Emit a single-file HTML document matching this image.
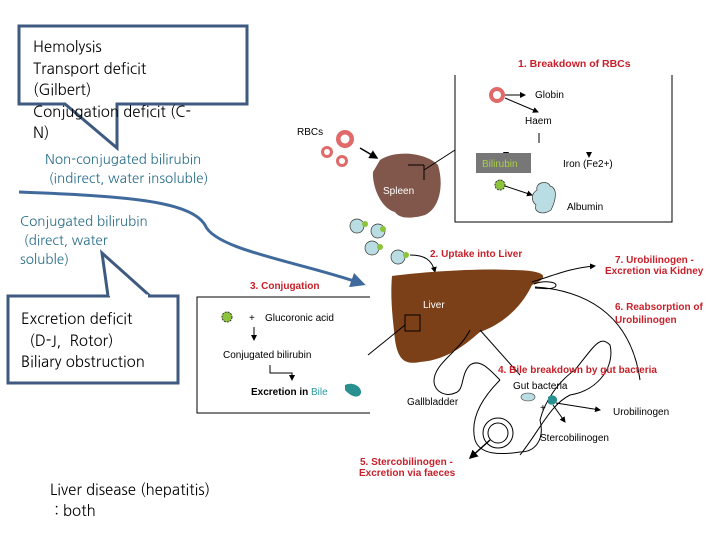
<!DOCTYPE html>
<html><head><meta charset="utf-8"><style>
body{margin:0;background:#fff;width:720px;height:540px;overflow:hidden;position:relative;font-family:"Liberation Sans","Noto Sans CJK KR",sans-serif}
.t{position:absolute;white-space:nowrap}
.k{font-family:"NanumGothic","Liberation Sans",sans-serif}
</style></head><body>
<svg width="720" height="540" style="position:absolute;left:0;top:0" font-family="Liberation Sans, sans-serif">
<defs>
<marker id="a" markerWidth="6" markerHeight="6" refX="5" refY="3" orient="auto"><path d="M0,0L6,3L0,6z" fill="#000"/></marker>
<marker id="b" markerWidth="5" markerHeight="5" refX="3" refY="2.5" orient="auto"><path d="M0,0L5,2.5L0,5z" fill="#416a9c"/></marker>
</defs>
<path d="M19,26H247V104H117V148L65,104H19Z" fill="#fff" stroke="#3f5a80" stroke-width="3"/>
<path d="M8,296H178V383H8Z" fill="#fff" stroke="#3f5a80" stroke-width="3"/>
<path d="M108,296L102,253L150,296" fill="#fff" stroke="#3f5a80" stroke-width="3"/>
<line x1="110" y1="296" x2="148" y2="296" stroke="#fff" stroke-width="3"/>
<path d="M19,192C120,196 190,200 205,225C215,250 300,262 360,283" fill="none" stroke="#416a9c" stroke-width="3" marker-end="url(#b)"/>
<path d="M455,75V222H672V75" fill="none" stroke="#000" stroke-width="1"/>
<text x="518" y="67" font-size="10.5" font-weight="bold" fill="#c8202a">1. Breakdown of RBCs</text>
<circle cx="497" cy="95" r="8" fill="#e06a6a"/><circle cx="497" cy="95" r="4" fill="#fff"/>
<line x1="505" y1="95" x2="525" y2="95" stroke="#000" marker-end="url(#a)"/>
<line x1="505" y1="98" x2="538" y2="112" stroke="#000" marker-end="url(#a)"/>
<text x="535" y="98" font-size="10">Globin</text>
<text x="525" y="124" font-size="10">Haem</text>
<line x1="539" y1="133" x2="539" y2="143" stroke="#000"/>
<line x1="506" y1="152" x2="506" y2="157" stroke="#000" marker-end="url(#a)"/>
<line x1="589" y1="152" x2="589" y2="157" stroke="#000" marker-end="url(#a)"/>
<rect x="476" y="153" width="55" height="20" fill="#777"/>
<text x="482" y="167" font-size="10" fill="#a8d040">Bilirubin</text>
<text x="563" y="167" font-size="10">Iron (Fe2+)</text>
<circle cx="500" cy="185" r="5" fill="#8bc43a" stroke="#333" stroke-dasharray="2 1"/>
<line x1="505" y1="186" x2="532" y2="195" stroke="#000" marker-end="url(#a)"/>
<path d="M537,190C535,182 548,180 550,186C558,188 556,200 551,210C543,216 533,212 536,205C530,200 532,193 537,190Z" fill="#b9dde3" stroke="#333" stroke-width=".7"/>
<text x="567" y="210" font-size="10">Albumin</text>
<text x="297" y="135" font-size="10">RBCs</text>
<circle cx="345" cy="139" r="9" fill="#e06a6a"/><circle cx="345" cy="139" r="4.5" fill="#fff"/>
<circle cx="327" cy="152" r="6" fill="#e06a6a"/><circle cx="327" cy="152" r="3" fill="#fff"/>
<circle cx="342" cy="161" r="6" fill="#e06a6a"/><circle cx="342" cy="161" r="3" fill="#fff"/>
<line x1="360" y1="148" x2="377" y2="158" stroke="#000" stroke-width="1.5" marker-end="url(#a)"/>
<path d="M380,160C395,150 425,152 438,165C444,185 440,208 425,215C415,218 400,220 395,212C380,208 372,185 373,172Z" fill="#80574a"/>
<text x="383" y="194" font-size="10" fill="#fff">Spleen</text>
<line x1="408" y1="165" x2="424" y2="165" stroke="#000"/><line x1="424" y1="165" x2="424" y2="180" stroke="#000"/>
<line x1="424" y1="170" x2="455" y2="150" stroke="#000"/>
<g fill="#b9dde3" stroke="#333" stroke-width=".7">
<circle cx="357" cy="226" r="7"/><circle cx="378" cy="231" r="7"/><circle cx="372" cy="248" r="7"/><circle cx="398" cy="257" r="7"/></g>
<g fill="#8bc43a"><circle cx="365" cy="224" r="3"/><circle cx="383" cy="229" r="3"/><circle cx="380" cy="247" r="3"/><circle cx="406" cy="255" r="3"/></g>
<path d="M410,255C425,255 432,260 435,272" fill="none" stroke="#000" marker-end="url(#a)"/>
<text x="430" y="257" font-size="10" font-weight="bold" fill="#c8202a">2. Uptake into Liver</text>
<text x="615" y="263" font-size="10" font-weight="bold" fill="#c8202a">7. Urobilinogen -</text>
<text x="605" y="274" font-size="10" font-weight="bold" fill="#c8202a">Excretion via Kidney</text>
<path d="M392,276C420,272 480,268 510,270C540,270 555,275 532,285C520,310 500,325 480,332C470,340 450,360 420,362C405,365 398,360 395,340C393,320 390,300 392,276Z" fill="#7b4017"/>
<text x="423" y="308" font-size="10" fill="#fff">Liver</text>
<rect x="405" y="315" width="15" height="16" fill="none" stroke="#000"/>
<line x1="405" y1="325" x2="368" y2="355" stroke="#000"/>
<path d="M532,282C555,275 570,268 595,266" fill="none" stroke="#000" marker-end="url(#a)"/>
<path d="M534,284C545,280 560,282 555,287C550,290 540,288 535,288" fill="none" stroke="#000"/>
<path d="M535,287C580,290 630,310 640,380" fill="none" stroke="#000"/>
<text x="615" y="310" font-size="10" font-weight="bold" fill="#c8202a">6. Reabsorption of</text>
<text x="615" y="323" font-size="10" font-weight="bold" fill="#c8202a">Urobilinogen</text>
<path d="M470,330C460,350 440,360 435,375C430,390 445,398 455,393C465,390 460,375 470,365C480,358 490,370 500,380" fill="none" stroke="#000"/>
<text x="407" y="405" font-size="10">Gallbladder</text>
<path d="M480,330L520,375" stroke="#000"/>
<path d="M500,380C480,400 470,420 475,440C480,455 500,455 520,452C535,452 545,440 540,420C545,400 560,380 575,370C595,345 600,335 610,345C615,365 600,390 570,395C550,405 540,430 520,455" fill="none" stroke="#000"/>
<circle cx="498" cy="433" r="15" fill="none" stroke="#000"/><circle cx="498" cy="433" r="10" fill="none" stroke="#000"/>
<line x1="490" y1="440" x2="470" y2="458" stroke="#000" stroke-width="1.5" marker-end="url(#a)"/>
<text x="498" y="373" font-size="10" font-weight="bold" fill="#c8202a">4. Bile breakdown by gut bacteria</text>
<text x="513" y="389" font-size="10">Gut bacteria</text>
<ellipse cx="528" cy="397" rx="7" ry="4" fill="#b9dde3" stroke="#333" stroke-width=".6"/>
<text x="540" y="411" font-size="10">+</text>
<path d="M548,397c5,-4 10,0 9,4c-2,4 -6,5 -9,2z" fill="#2a8f8f"/>
<line x1="556" y1="403" x2="600" y2="410" stroke="#000" marker-end="url(#a)"/>
<line x1="553" y1="405" x2="565" y2="422" stroke="#000" marker-end="url(#a)"/>
<text x="613" y="415" font-size="10">Urobilinogen</text>
<text x="540" y="441" font-size="10">Stercobilinogen</text>
<text x="360" y="465" font-size="10" font-weight="bold" fill="#c8202a">5. Stercobilinogen -</text>
<text x="359" y="476" font-size="10" font-weight="bold" fill="#c8202a">Excretion via faeces</text>
<path d="M370,297H197V413H370" fill="none" stroke="#000"/>
<text x="250" y="289" font-size="10" font-weight="bold" fill="#c8202a">3. Conjugation</text>
<circle cx="227" cy="317" r="5" fill="#8bc43a" stroke="#333" stroke-dasharray="2 1"/>
<text x="249" y="321" font-size="10">+</text>
<text x="265" y="321" font-size="10">Glucoronic acid</text>
<line x1="254" y1="327" x2="254" y2="340" stroke="#000" marker-end="url(#a)"/>
<text x="223" y="358" font-size="10">Conjugated bilirubin</text>
<path d="M270,365V373H292V380" fill="none" stroke="#000" marker-end="url(#a)"/>
<text x="251" y="395" font-size="10" font-weight="bold">Excretion in <tspan fill="#2a9aa0" font-weight="normal">Bile</tspan></text>
<path d="M345,385c8,-4 17,2 16,8c-2,6 -10,4 -16,-3z" fill="#2a8f8f"/>
</svg>
<div class="t k" style="left:33px;top:37px;font-size:15px;line-height:21.5px">Hemolysis<br>Transport deficit<br>(Gilbert)<br>Conjugation deficit (C-<br>N)</div>
<div class="t k" style="left:45px;top:150px;font-size:13.5px;line-height:19px;color:#2b6f8a">Non-conjugated bilirubin<br>&nbsp;(indirect, water insoluble)</div>
<div class="t k" style="left:20px;top:212px;font-size:13.5px;line-height:19px;color:#2b6f8a">Conjugated bilirubin<br>&nbsp;(direct, water<br>soluble)</div>
<div class="t k" style="left:21px;top:309px;font-size:15px;line-height:21.5px">Excretion deficit<br>&nbsp;&nbsp;(D-J,&nbsp; Rotor)<br>Biliary obstruction</div>
<div class="t k" style="left:50px;top:480px;font-size:15px;line-height:21px">Liver disease (hepatitis)<br>&nbsp;: both</div>
</body></html>
